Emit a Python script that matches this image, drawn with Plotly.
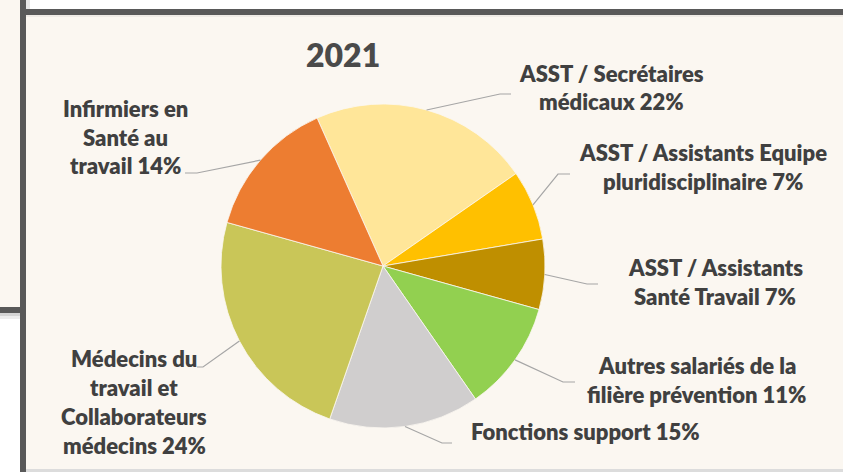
import numpy as np
import plotly.graph_objects as go

# ---- data ----
categories = [
    ["ASST / Secrétaires", "médicaux"],
    ["ASST / Assistants Equipe", "pluridisciplinaire"],
    ["ASST / Assistants", "Santé Travail"],
    ["Autres salariés de la", "filière prévention"],
    ["Fonctions support"],
    ["Médecins du", "travail et", "Collaborateurs", "médecins"],
    ["Infirmiers en", "Santé au", "travail"],
]
values = [22, 7, 7, 11, 15, 24, 14]
colors = ["#FFE699", "#FFC000", "#BF8F00", "#92D050", "#D0CECE", "#C9C658", "#ED7D31"]
title_text = "2021"

# ---- layout constants (pixels) ----
W, H = 843, 472
CX, CY, R = 383, 266, 162
ROTATION = -24
BG = "#FBF7F1"
BORDER = "#595959"
TXT = "#404040"
FONT = "Lato"
LABEL_SIZE = 22
LINE_GAP = 29

# label placement: (center x, first line center y, elbow, end)
label_pos = [
    (611, 73, (500, 94), (511, 94)),
    (703, 152, (558, 174), (570, 174)),
    (715, 267, (587, 284), (598, 284)),
    (697, 365, (563, 382), (575, 382)),
    (585, 431, (442, 443), (452, 443)),
    (134, 358, (203, 367), (197, 367)),
    (125, 108, (197, 173), (185, 173)),
]


def px(x):
    return x / W


def py(y):
    return 1 - y / H


fig = go.Figure()
fig.add_trace(go.Pie(
    values=values,
    labels=[" ".join(c) for c in categories],
    sort=False,
    direction="clockwise",
    rotation=ROTATION,
    marker=dict(colors=colors, line=dict(color=BG, width=0.8)),
    textinfo="none",
    hoverinfo="label+percent",
    showlegend=False,
    domain=dict(x=[px(CX - R), px(CX + R)], y=[py(CY + R), py(CY - R)]),
))

shapes = []


def rect(x0, y0, x1, y1, color, layer="below"):
    shapes.append(dict(type="rect", xref="paper", yref="paper",
                       x0=px(x0), x1=px(x1), y0=py(y1), y1=py(y0),
                       fillcolor=color, line=dict(width=0), layer=layer))


rect(0, 0, 20, 308, BG)
rect(0, 313, 20, 316, "#D4D4D4")
rect(0, 316, 20, 319, "#EDEDED")
rect(0, 307, 20, 313, BORDER)
rect(26, 469, 843, 472, "#DCDCDC")
rect(26, 15, 843, 469, BG)
rect(26, 0, 30, 9, "#E6E6E6")
rect(20, 0, 26, 472, BORDER)
rect(20, 9, 843, 15, BORDER)
rect(26, 15, 843, 17, "#EFEBE6")

# leader lines from slice mid-angles
total = sum(values)
start = ROTATION
for v, (lx, ly, elbow, end) in zip(values, label_pos):
    mid = np.deg2rad(start + 360 * v / total / 2)
    start += 360 * v / total
    sx = CX + R * np.sin(mid)
    sy = CY - R * np.cos(mid)
    path = f"M {px(sx)} {py(sy)} L {px(elbow[0])} {py(elbow[1])} L {px(end[0])} {py(end[1])}"
    shapes.append(dict(type="path", xref="paper", yref="paper", path=path,
                       line=dict(color="#A6A6A6", width=1.2), layer="above"))

annotations = []
for cat, v, (lx, ly, elbow, end) in zip(categories, values, label_pos):
    lines = list(cat)
    lines[-1] = f"{lines[-1]} {v}%"
    for i, t in enumerate(lines):
        annotations.append(dict(
            x=px(lx), y=py(ly + i * LINE_GAP), xref="paper", yref="paper",
            text=t, showarrow=False, xanchor="center", yanchor="middle",
            font=dict(family=FONT, size=LABEL_SIZE, color=TXT, weight=800)))

annotations.append(dict(
    x=px(343), y=py(54), xref="paper", yref="paper", text=title_text,
    showarrow=False, xanchor="center", yanchor="middle",
    font=dict(family=FONT, size=32, color="#4A4A4A", weight=800)))

fig.update_layout(
    width=W, height=H,
    margin=dict(l=0, r=0, t=0, b=0),
    paper_bgcolor="white",
    plot_bgcolor="white",
    shapes=shapes,
    annotations=annotations,
)

fig.write_html("out.html", config={"displayModeBar": False},
               post_script="document.body.style.margin='0';document.body.style.overflow='hidden';")
